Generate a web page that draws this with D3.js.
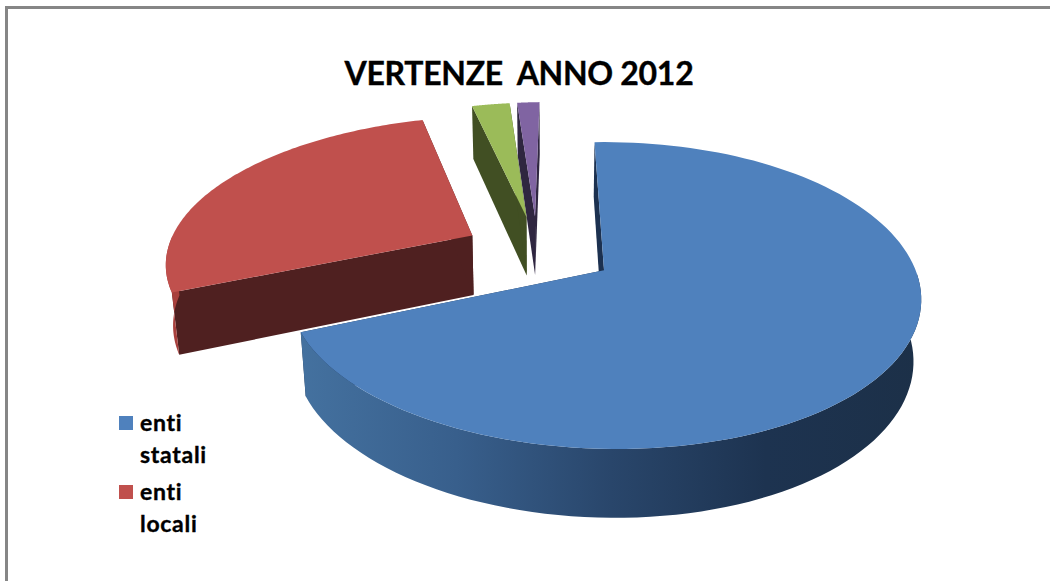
<!DOCTYPE html>
<html>
<head>
<meta charset="utf-8">
<script src="https://cdn.jsdelivr.net/npm/d3@7"></script>
<style>
  html, body { margin: 0; padding: 0; background: #fff; overflow: hidden; }
  svg { display: block; }
  text { font-family: Lato, "Open Sans", sans-serif; font-weight: 700; fill: #000; stroke: #000; stroke-width: 0.35px; }
</style>
</head>
<body>
<svg id="chart" width="1050" height="581"></svg>
<script>
// Disputes by type of public body, 2012 (shares in percent)
const sliceKeys = ["statali", "locali", "altri", "varie"];
const sliceValues = [69.2, 27.05, 2.35, 1.4];
const topColors = ["#4f81bd", "#c0504d", "#9bbb59", "#8064a2"];
const wallColors = ["#1c3150", "#4f2020", "#414f23", "#2f2640"];
const sideColors = ["url(#blueSide)", "#a8403d", "#5c6f33", "#4a3a60"];
const drawOrder = [0, 3, 2, 1];

const titleText = "VERTENZE  ANNO 2012";
const legendEntries = [
  { lines: ["enti", "statali"], color: topColors[0] },
  { lines: ["enti", "locali"], color: topColors[1] }
];

const svg = d3.select("#chart");

// Frame: only the top and left edges fall inside the page
svg.append("rect").attr("x", 5).attr("y", 6).attr("width", 1100).attr("height", 700)
  .attr("fill", "none").attr("stroke", "#868686").attr("stroke-width", 3)
  .attr("transform", "translate(1.5,1.5)");

svg.append("text").attr("x", 519).attr("y", 85)
  .attr("text-anchor", "middle").attr("font-size", 32)
  .attr("letter-spacing", -0.3)
  .style("white-space", "pre").text(titleText);

// Side shading of the large slice runs from mid blue to dark navy
const defs = svg.append("defs");
const grad = defs.append("linearGradient").attr("id", "blueSide")
  .attr("gradientUnits", "userSpaceOnUse")
  .attr("x1", 302).attr("x2", 920).attr("y1", 0).attr("y2", 0);
[[0, "#44719f"], [0.25, "#385f8c"], [0.5, "#29466b"], [0.75, "#1d3350"], [1, "#1c3048"]]
  .forEach(([o, c]) => grad.append("stop").attr("offset", o).attr("stop-color", c));

// Perspective view of the tilted disc: unit disc coordinates to the page
const depthScale = d3.scaleLinear().domain([-1, 1]).range([1.0218 - 0.1645, 1.0218 + 0.1645]);
const across = d3.scaleLinear().domain([-1, 1]).range([-311.5, 311.5]);
const along = d3.scaleLinear().domain([-1, 1]).range([146, -146]);
const thickness = d3.scaleLinear().domain([0, 1]).range([0, 62.8]);
const originX = 538.4, originY = 250.66, depthShrink = 0.02;

// The camera sits a little off axis, so far points drift to the right
function drift(y) {
  const u = y + 0.13;
  return 4.57 * u + 4.57 * u * u;
}

function project(x, y, z) {
  const w = depthScale(y) + depthShrink * z;
  return [originX + across(x) / w + drift(y), originY + (along(y) + thickness(z)) / w];
}

const pie = d3.pie().sort(null).value(d => d)
  .startAngle(-2 * Math.PI / 180)
  .endAngle(358 * Math.PI / 180);
const arcs = pie(sliceValues);
const explode = 0.25;
const outline = d3.line();

drawOrder.forEach(i => {
  const a = arcs[i];
  const mid = (a.startAngle + a.endAngle) / 2;
  const ox = explode * Math.sin(mid), oy = explode * Math.cos(mid);
  const steps = d3.range(0, 121).map(s => a.startAngle + (a.endAngle - a.startAngle) * s / 120);
  const rim = (ts, z) => ts.map(t => project(ox + Math.sin(t), oy + Math.cos(t), z));
  const apex = z => project(ox, oy, z);
  const rimTop = rim(steps, 0), rimBottom = rim(steps, 1);
  const g = svg.append("g").attr("class", "slice-" + sliceKeys[i]);

  // Radial walls behind the slice, then the camera-facing outer side, then the top face
  [[rimTop[0], apex(0), apex(1), rimBottom[0]],
   [rimTop[120], apex(0), apex(1), rimBottom[120]]].forEach(q => {
    g.append("path").attr("d", outline(q) + "Z").attr("fill", wallColors[i]);
  });
  const facing = steps.filter(t => Math.cos(t) < 0);
  if (facing.length > 1) {
    const sideTop = rim(facing, 0), sideBottom = rim(facing, 1);
    g.append("path")
      .attr("d", outline(sideTop.concat(sideBottom.slice().reverse())) + "Z")
      .attr("fill", sideColors[i]);
  }
  g.append("path")
    .attr("d", outline([apex(0)].concat(rimTop)) + "Z")
    .attr("fill", topColors[i]);
});

// Legend: two visible entries, each on two lines
const legendY = [416, 485];
legendEntries.forEach((e, i) => {
  svg.append("rect").attr("x", 119).attr("y", legendY[i])
    .attr("width", 14).attr("height", 14).attr("fill", e.color);
  e.lines.forEach((ln, j) => {
    svg.append("text").attr("x", 140).attr("y", legendY[i] + 15 + j * 31.5)
      .attr("font-size", 23).attr("letter-spacing", 0.7).text(ln);
  });
});
</script>
</body>
</html>
